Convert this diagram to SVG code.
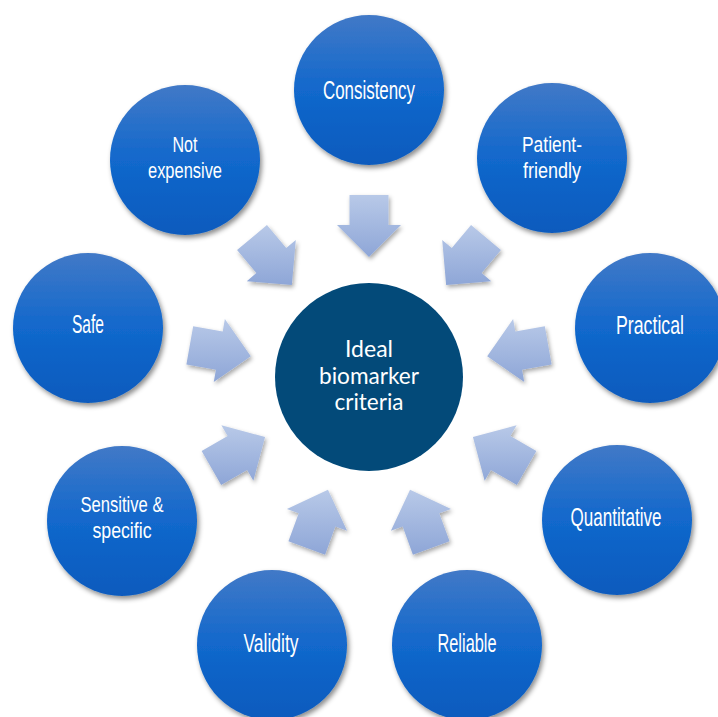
<svg xmlns="http://www.w3.org/2000/svg" width="718" height="717" viewBox="0 0 718 717">
<defs>
<linearGradient id="gBlue" x1="0" y1="0" x2="0" y2="1">
<stop offset="0" stop-color="#4179c7"/>
<stop offset="0.5" stop-color="#1268cc"/>
<stop offset="1" stop-color="#085abd"/>
</linearGradient>
<linearGradient id="gArrow" x1="0" y1="0" x2="0" y2="1">
<stop offset="0" stop-color="#b8c9e8"/>
<stop offset="1" stop-color="#8ea6d7"/>
</linearGradient>
<filter id="shadow" x="-20%" y="-20%" width="140%" height="140%">
<feDropShadow dx="2" dy="3" stdDeviation="2.5" flood-color="#000" flood-opacity="0.45"/>
</filter>
<filter id="ashadow" x="-20%" y="-20%" width="140%" height="140%">
<feDropShadow dx="1.5" dy="2.5" stdDeviation="2" flood-color="#000" flood-opacity="0.35"/>
</filter>
</defs>
<style>
.outer{fill:url(#gBlue);filter:url(#shadow)}
.arrow{fill:url(#gArrow);filter:url(#ashadow)}
.lbl{font-family:"Liberation Sans",Arial,sans-serif;font-size:25px;fill:#ffffff;text-anchor:middle}
.lbl2{font-family:"Liberation Sans",Arial,sans-serif;font-size:22px;fill:#ffffff;text-anchor:middle}
.clbl{font-family:Lato,"Open Sans",sans-serif;font-size:23px;fill:#ffffff;text-anchor:middle}
</style>
<rect width="718" height="717" fill="#ffffff"/>
<g id="connectors">
<polygon class="arrow" points="369,257 337,225 349.5,225 349.5,195 388.5,195 388.5,225 401,225"/>
<polygon class="arrow" points="446.13,285.08 442.2,240 451.77,248.04 471.05,225.06 500.93,250.12 481.65,273.1 491.22,281.14"/>
<polygon class="arrow" points="487.18,356.17 513.13,319.1 515.3,331.41 544.84,326.2 551.62,364.6 522.08,369.81 524.25,382.12"/>
<polygon class="arrow" points="472.92,437 516.63,425.29 510.38,436.11 536.36,451.11 516.86,484.89 490.88,469.89 484.63,480.71"/>
<polygon class="arrow" points="410.04,489.76 451.05,508.89 439.3,513.16 449.56,541.36 412.92,554.7 402.66,526.5 390.91,530.77"/>
<polygon class="arrow" points="327.96,489.76 347.09,530.77 335.34,526.5 325.08,554.7 288.44,541.36 298.7,513.16 286.95,508.89"/>
<polygon class="arrow" points="265.08,437 253.37,480.71 247.12,469.89 221.14,484.89 201.64,451.11 227.62,436.11 221.37,425.29"/>
<polygon class="arrow" points="250.82,356.17 213.75,382.12 215.92,369.81 186.38,364.6 193.16,326.2 222.7,331.41 224.87,319.1"/>
<polygon class="arrow" points="291.87,285.08 246.78,281.14 256.35,273.1 237.07,250.12 266.95,225.06 286.23,248.04 295.8,240"/>
</g>
<g id="center">
<circle cx="369" cy="377" r="94" fill="#034a79"/>
<text class="clbl" x="369" y="357" textLength="48" lengthAdjust="spacingAndGlyphs">Ideal</text>
<text class="clbl" x="369" y="384" textLength="100" lengthAdjust="spacingAndGlyphs">biomarker</text>
<text class="clbl" x="369" y="410" textLength="69" lengthAdjust="spacingAndGlyphs">criteria</text>
</g>
<g id="consistency">
<circle class="outer" cx="369" cy="90" r="75"/>
<text class="lbl" x="369" y="99" textLength="92" lengthAdjust="spacingAndGlyphs">Consistency</text>
</g>
<g id="patient-friendly">
<circle class="outer" cx="552" cy="158" r="75"/>
<text class="lbl2" x="552" y="152" textLength="60" lengthAdjust="spacingAndGlyphs">Patient-</text>
<text class="lbl2" x="552" y="178" textLength="58" lengthAdjust="spacingAndGlyphs">friendly</text>
</g>
<g id="practical">
<circle class="outer" cx="650" cy="328" r="75"/>
<text class="lbl" x="650" y="334" textLength="68" lengthAdjust="spacingAndGlyphs">Practical</text>
</g>
<g id="quantitative">
<circle class="outer" cx="617" cy="520" r="75"/>
<text class="lbl" x="616" y="526" textLength="91" lengthAdjust="spacingAndGlyphs">Quantitative</text>
</g>
<g id="reliable">
<circle class="outer" cx="467" cy="645" r="75"/>
<text class="lbl" x="467" y="652" textLength="59" lengthAdjust="spacingAndGlyphs">Reliable</text>
</g>
<g id="validity">
<circle class="outer" cx="272" cy="645" r="75"/>
<text class="lbl" x="271" y="652" textLength="55" lengthAdjust="spacingAndGlyphs">Validity</text>
</g>
<g id="sensitive-specific">
<circle class="outer" cx="122" cy="521" r="75"/>
<text class="lbl2" x="122" y="512" textLength="83" lengthAdjust="spacingAndGlyphs">Sensitive &amp;</text>
<text class="lbl2" x="122" y="538" textLength="59" lengthAdjust="spacingAndGlyphs">specific</text>
</g>
<g id="safe">
<circle class="outer" cx="88" cy="328" r="75"/>
<text class="lbl" x="88" y="333" textLength="32" lengthAdjust="spacingAndGlyphs">Safe</text>
</g>
<g id="not-expensive">
<circle class="outer" cx="185" cy="160" r="75"/>
<text class="lbl2" x="185" y="152" textLength="25" lengthAdjust="spacingAndGlyphs">Not</text>
<text class="lbl2" x="185" y="178" textLength="74" lengthAdjust="spacingAndGlyphs">expensive</text>
</g>
</svg>
